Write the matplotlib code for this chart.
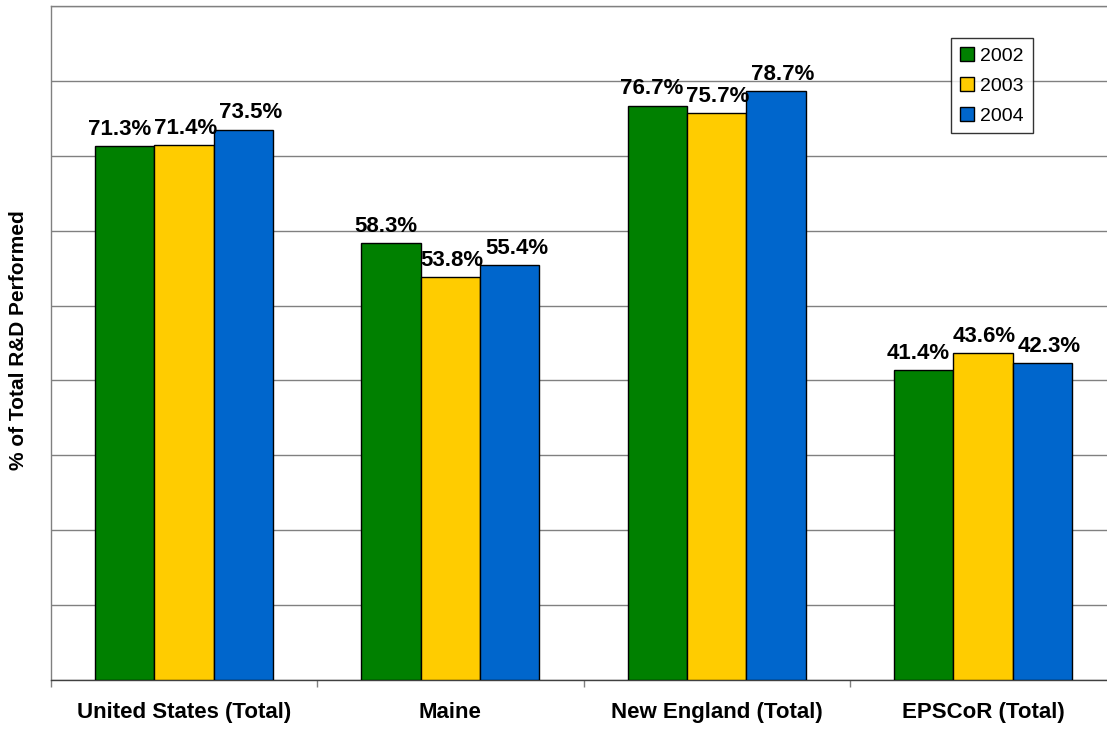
import matplotlib
matplotlib.use("Agg")
import matplotlib.pyplot as plt
import numpy as np

categories = ["United States (Total)", "Maine", "New England (Total)", "EPSCoR (Total)"]
years = ["2002", "2003", "2004"]
values_2002 = [71.3, 58.3, 76.7, 41.4]
values_2003 = [71.4, 53.8, 75.7, 43.6]
values_2004 = [73.5, 55.4, 78.7, 42.3]
series = [values_2002, values_2003, values_2004]
colors = ["#008000", "#FFCC00", "#0066CC"]

plt.rcParams['font.family'] = ['Liberation Sans', 'DejaVu Sans']

fig = plt.figure(figsize=(11.07, 7.30), dpi=100)
ax = fig.add_axes([51/1107, 50/730, 1065/1107, 674/730])

x = np.arange(len(categories))
w = 0.2227
label_nudge = [-4.0, 1.0, 5.0]  # points, spreads adjacent labels like the original
for i, (vals, c, yr) in enumerate(zip(series, colors, years)):
    pos = x + (i - 1) * w
    ax.bar(pos, vals, width=w, color=c, edgecolor="black", linewidth=1.0,
           label=yr, zorder=3)
    for xp, v in zip(pos, vals):
        ax.annotate(f"{v:.1f}%", xy=(xp, v), xytext=(label_nudge[i], 8),
                    textcoords="offset points", ha="center", va="baseline",
                    fontsize=16, fontweight="bold", zorder=4)

ax.set_xlim(-0.5, len(categories) - 0.5)
ax.set_ylim(0, 90)
ax.set_yticks(np.arange(0, 91, 10))
ax.set_yticklabels([])
ax.tick_params(axis="y", length=0)
ax.yaxis.grid(True, color="#808080", linewidth=1.0, zorder=0)
ax.set_axisbelow(True)

ax.set_xticks(x)
ax.set_xticklabels(categories, fontsize=16, fontweight="bold")
ax.set_xticks(np.arange(-0.5, len(categories) + 0.5, 1), minor=True)
ax.tick_params(axis="x", which="major", length=0, pad=16)
ax.tick_params(axis="x", which="minor", length=5, width=1.0, color="#808080", direction="out")

for side in ["left", "top", "right"]:
    ax.spines[side].set_color("#808080")
    ax.spines[side].set_linewidth(1.0)
ax.spines["bottom"].set_color("#404040")
ax.spines["bottom"].set_linewidth(1.0)

ax.set_ylabel("% of Total R&D Performed", fontsize=15, fontweight="bold")
ax.yaxis.set_label_coords(-0.022, 0.505)

leg = ax.legend(loc="upper left", bbox_to_anchor=(951/1107, 1 - 38/730),
                bbox_transform=fig.transFigure, fontsize=14, frameon=True,
                fancybox=False, shadow=False, handlelength=0.75, handleheight=0.75,
                handletextpad=0.3, labelspacing=0.62, borderpad=0.45, borderaxespad=0)
leg.get_frame().set_edgecolor("black")
leg.get_frame().set_linewidth(1.0)

fig.savefig("out.png", dpi=100)
